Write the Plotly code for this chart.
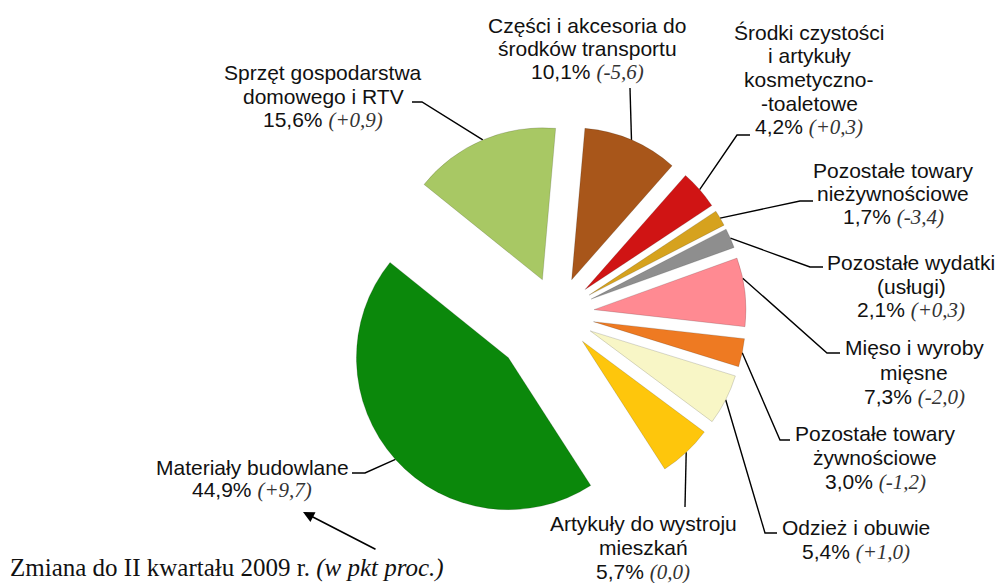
import math
import plotly.graph_objects as go

# ---------------- data ----------------
categories = [
    "Części i akcesoria do środków transportu",
    "Środki czystości i artykuły kosmetyczno-toaletowe",
    "Pozostałe towary nieżywnościowe",
    "Pozostałe wydatki (usługi)",
    "Mięso i wyroby mięsne",
    "Pozostałe towary żywnościowe",
    "Odzież i obuwie",
    "Artykuły do wystroju mieszkań",
    "Materiały budowlane",
    "Sprzęt gospodarstwa domowego i RTV",
]
shares = [10.1, 4.2, 1.7, 2.1, 7.3, 3.0, 5.4, 5.7, 44.9, 15.6]
changes = ["-5,6", "+0,3", "-3,4", "+0,3", "-2,0", "-1,2", "+1,0", "0,0", "+9,7", "+0,9"]
label_lines = [
    ["Części i akcesoria do", "środków transportu"],
    ["Środki czystości", "i artykuły", "kosmetyczno-", "-toaletowe"],
    ["Pozostałe towary", "nieżywnościowe"],
    ["Pozostałe wydatki", "(usługi)"],
    ["Mięso i wyroby", "mięsne"],
    ["Pozostałe towary", "żywnościowe"],
    ["Odzież i obuwie"],
    ["Artykuły do wystroju", "mieszkań"],
    ["Materiały budowlane"],
    ["Sprzęt gospodarstwa", "domowego i RTV"],
]
footnote = "Zmiana do II kwartału 2009 r."
footnote_italic = "(w pkt proc.)"

# ---------------- style ----------------
colors = ["#A8561A", "#D01414", "#D6A21E", "#8E8E8E", "#FF8A92",
          "#EE7A22", "#F8F6C6", "#FEC60C", "#0B880B", "#A8C864"]
pulls = [0.245, 0.245, 0.245, 0.245, 0.245, 0.245, 0.245, 0.245, 0.43, 0.245]
ROT = 5
W, H = 998, 583
CX, CY, R = 557, 314, 152
anchor_frac = [0.5, 0.5, 0.5, 0.5, 0.3, 0.5, 0.5, 0.5, 0.5, 0.5]

# label block: centre x, first line y, line step; leader points on the label side
label_pos = [
    (587, 25, 23.5, [(630, 88)]),
    (809, 32, 23.8, [(750, 135), (737, 135)]),
    (893, 170, 23.5, [(813, 201), (800, 201)]),
    (911, 262, 24, [(823, 267), (810, 267)]),
    (914, 347, 25, [(840, 353), (827, 353)]),
    (875, 433, 24.5, [(790, 440), (780, 440)]),
    (856, 527, 25, [(777, 533), (765, 533)]),
    (643, 523, 24.5, [(685, 507)]),
    (252, 467, 23, [(352, 473), (365, 473)]),
    (323, 72, 24, [(412, 102), (422, 102)]),
]

half = R * (1 + max(pulls))
dom_x = [(CX - half) / W, (CX + half) / W]
dom_y = [1 - (CY + half) / H, 1 - (CY - half) / H]

fig = go.Figure()
fig.add_trace(go.Pie(
    labels=categories, values=shares, sort=False, direction="clockwise",
    rotation=ROT, pull=pulls, textinfo="none", hoverinfo="label+percent",
    marker=dict(colors=colors, line=dict(color="rgba(0,0,0,0.15)", width=1)),
    domain=dict(x=dom_x, y=dom_y), showlegend=False,
))

# anchors on slices computed from the data
tot = sum(shares)
ang = ROT
lx, ly = [], []
annotations = []
for i, v in enumerate(shares):
    a0 = ang
    a1 = ang + v / tot * 360
    ang = a1
    mid = math.radians((a0 + a1) / 2)
    apx = CX + pulls[i] * R * math.sin(mid)
    apy = CY - pulls[i] * R * math.cos(mid)
    aa = math.radians(a0 + (a1 - a0) * anchor_frac[i])
    axp = apx + R * math.sin(aa)
    ayp = apy - R * math.cos(aa)
    cx, y0, dy, pts = label_pos[i]
    path = pts + [(axp, ayp)]
    lx += [p[0] for p in path] + [None]
    ly += [p[1] for p in path] + [None]
    lines = list(label_lines[i]) + [
        f"{v:.1f}%".replace(".", ",") +
        f" <i><span style=\"font-family:Liberation Serif;color:#333333\">({changes[i]})</span></i>"
    ]
    for k, t in enumerate(lines):
        annotations.append(dict(
            x=cx, y=y0 + k * dy, xref="x", yref="y", text=t, showarrow=False,
            xanchor="center", yanchor="middle",
            font=dict(family="Liberation Sans, Arial", size=21, color="#111111"),
        ))

fig.add_trace(go.Scatter(x=lx, y=ly, mode="lines", line=dict(color="#000000", width=1.4),
                         hoverinfo="skip", showlegend=False))

annotations.append(dict(
    x=8, y=568, xref="x", yref="y", xanchor="left", yanchor="middle", showarrow=False,
    text=f"{footnote} <i>{footnote_italic}</i>",
    font=dict(family="Liberation Serif, Times New Roman", size=25, color="#111111"),
))
annotations.append(dict(
    x=303, y=512, ax=377, ay=550, xref="x", yref="y", axref="x", ayref="y",
    text="", showarrow=True, arrowhead=2, arrowsize=1.4, arrowwidth=1.6, arrowcolor="#000000",
))

fig.update_layout(
    width=W, height=H, margin=dict(l=0, r=0, t=0, b=0),
    paper_bgcolor="white", plot_bgcolor="rgba(0,0,0,0)",
    xaxis=dict(range=[0, W], visible=False, fixedrange=True, domain=[0, 1]),
    yaxis=dict(range=[H, 0], visible=False, fixedrange=True, domain=[0, 1]),
    annotations=annotations, showlegend=False,
)

fig.write_html("out.html", config={"displayModeBar": False},
               post_script="document.body.style.margin='0';document.body.style.overflow='hidden';")
